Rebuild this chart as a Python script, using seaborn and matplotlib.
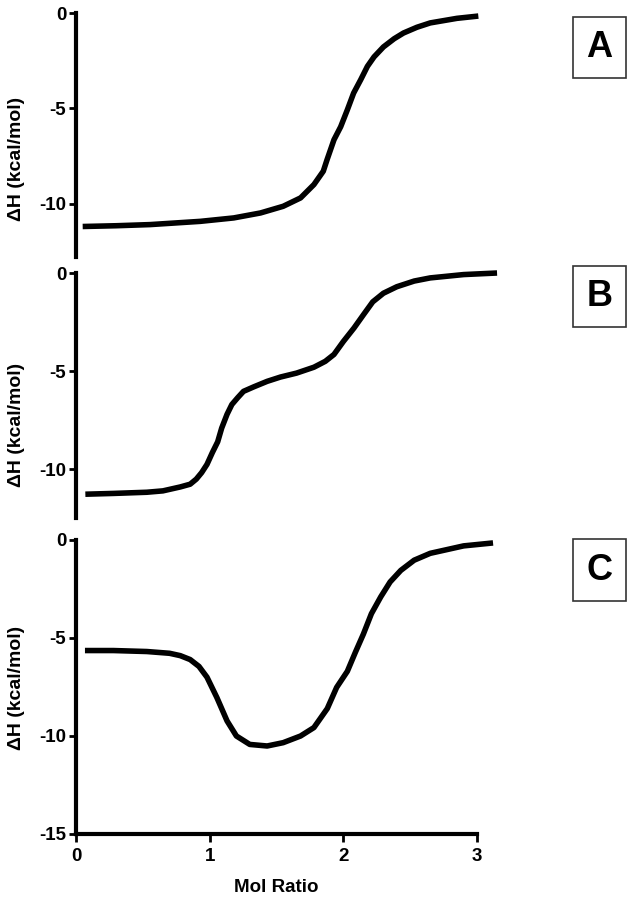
import numpy as np
import pandas as pd
import matplotlib
matplotlib.use("Agg")
import matplotlib.pyplot as plt
from matplotlib.patches import Rectangle
import seaborn as sns

# Panel A: single-site titration
mol_a = [0.05, 0.3, 0.554, 0.93, 1.18, 1.38, 1.55, 1.68, 1.78, 1.85, 1.878, 1.93, 1.98,
         2.03, 2.077, 2.13, 2.18, 2.23, 2.30, 2.38, 2.45, 2.55, 2.65, 2.85, 3.01]
dh_a = [-11.2, -11.16, -11.1, -10.93, -10.75, -10.49, -10.14, -9.7, -9.0, -8.3, -7.7,
        -6.65, -5.97, -5.08, -4.2, -3.5, -2.8, -2.3, -1.78, -1.35, -1.05, -0.75, -0.52,
        -0.28, -0.16]

# Panel B: two-step titration
mol_b = [0.07, 0.28, 0.53, 0.65, 0.78, 0.854, 0.90, 0.94, 0.98, 1.02, 1.06, 1.09, 1.13,
         1.166, 1.21, 1.253, 1.33, 1.43, 1.53, 1.65, 1.78, 1.865, 1.93, 2.0, 2.08, 2.15,
         2.22, 2.30, 2.40, 2.53, 2.65, 2.90, 3.15]
dh_b = [-11.27, -11.23, -11.17, -11.1, -10.9, -10.76, -10.5, -10.17, -9.75, -9.15, -8.6,
        -7.9, -7.2, -6.7, -6.35, -6.03, -5.8, -5.52, -5.3, -5.1, -4.8, -4.5, -4.15, -3.49,
        -2.8, -2.13, -1.47, -1.03, -0.7, -0.41, -0.25, -0.08, 0.0]

# Panel C: dip then rise
mol_c = [0.067, 0.28, 0.53, 0.70, 0.78, 0.854, 0.92, 0.98, 1.054, 1.13, 1.2, 1.3, 1.43,
         1.55, 1.68, 1.78, 1.88, 1.95, 2.03, 2.09, 2.15, 2.21, 2.28, 2.35, 2.43, 2.53,
         2.65, 2.90, 3.12]
dh_c = [-5.64, -5.64, -5.69, -5.78, -5.9, -6.1, -6.45, -7.0, -8.04, -9.23, -10.0, -10.43,
        -10.51, -10.34, -10.0, -9.57, -8.6, -7.52, -6.7, -5.73, -4.8, -3.76, -2.9, -2.14,
        -1.55, -1.03, -0.68, -0.3, -0.15]

panel_labels = ["A", "B", "C"]
x_ticks = [0, 1, 2, 3]

sns.set_style("ticks")
plt.rcParams["font.family"] = ["Liberation Sans", "DejaVu Sans"]
plt.rcParams["font.weight"] = "bold"
plt.rcParams["text.color"] = "black"
plt.rcParams["axes.labelcolor"] = "black"
plt.rcParams["axes.edgecolor"] = "black"
plt.rcParams["xtick.color"] = "black"
plt.rcParams["ytick.color"] = "black"

fig = plt.figure(figsize=(6.31, 9.0), dpi=100)

W, H = 631.0, 900.0
left = 76 / W
width = 401 / W

# (top px, bottom px, ylim low, spine low, y ticks, label y)
specs = {
    "A": (13, 257, -12.8, -12.8, [0, -5, -10], 0.40),
    "C": (540, 834, -15.0, -15.0, [0, -5, -10, -15], 0.497),
    "B": (273, 537, -13.45, -12.5, [0, -5, -10], 0.424),
}
curves = {"A": (mol_a, dh_a), "B": (mol_b, dh_b), "C": (mol_c, dh_c)}

for key in ["A", "C", "B"]:
    top, bot, ylow, slow, yt, ly = specs[key]
    ax = fig.add_axes([left, (H - bot) / H, width, (bot - top) / H])
    x, y = curves[key]
    df = pd.DataFrame({"Mol Ratio": x, "dH": y})
    sns.lineplot(data=df, x="Mol Ratio", y="dH", ax=ax, color="black",
                 linewidth=4, clip_on=False, sort=False,
                 solid_joinstyle="round", solid_capstyle="butt")
    ax.set_xlim(0, 3)
    ax.set_ylim(ylow, 0)
    ax.spines["top"].set_visible(False)
    ax.spines["right"].set_visible(False)
    ax.spines["left"].set_linewidth(3)
    ax.spines["left"].set_bounds(slow, 0)
    ax.set_yticks(yt)
    ax.set_yticklabels([str(v) for v in yt])
    ax.tick_params(axis="y", length=5, width=2, pad=2, labelsize=13.5)
    ax.set_ylabel("\u0394H (kcal/mol)", fontsize=14, fontweight="bold")
    ax.yaxis.set_label_coords(-0.127, ly)
    if key == "C":
        ax.spines["bottom"].set_linewidth(3)
        ax.set_xticks(x_ticks)
        ax.set_xticklabels([str(v) for v in x_ticks])
        ax.tick_params(axis="x", length=6, width=2, pad=4, labelsize=13.5)
        ax.set_xlabel("Mol Ratio", fontsize=13.5, fontweight="bold", labelpad=10)
    else:
        ax.spines["bottom"].set_visible(False)
        ax.set_xticks([])
        ax.set_xlabel("")
        ax.set_zorder(1 if key == "B" else 0)

# boxed panel letters
box_y = {"A": (17, 78), "B": (266, 327), "C": (539, 601)}
for lab in panel_labels:
    y0, y1 = box_y[lab]
    rect = Rectangle((573 / W, (H - y1) / H), 53 / W, (y1 - y0) / H,
                     transform=fig.transFigure, facecolor="white",
                     edgecolor="#333333", linewidth=1.2)
    fig.add_artist(rect)
    fig.text(599.5 / W, (H - (y0 + y1) / 2) / H, lab, ha="center", va="center",
             fontsize=26, fontweight="bold")

fig.savefig("out.png", dpi=100)
